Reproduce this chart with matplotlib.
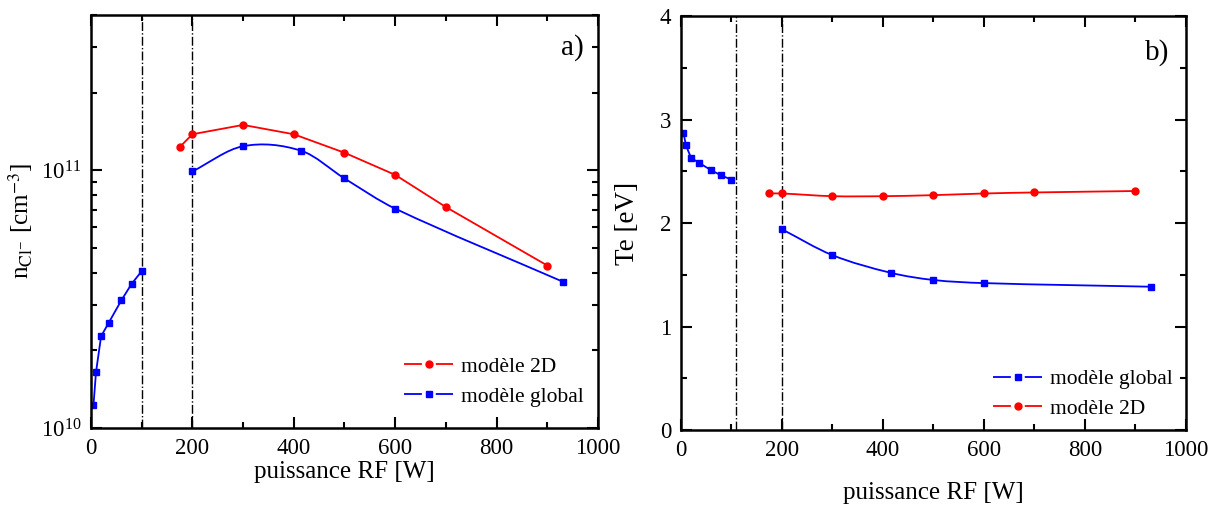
import numpy as np
import matplotlib
matplotlib.use("Agg")
import matplotlib.pyplot as plt
from matplotlib.path import Path
from matplotlib.patches import PathPatch
from matplotlib.lines import Line2D
from matplotlib.ticker import MultipleLocator, LogLocator, NullFormatter

plt.rcParams['font.family'] = ['Liberation Serif', 'DejaVu Serif']
plt.rcParams['mathtext.fontset'] = 'stix'

# --- données ---
# modèle global, basse puissance (mode E)
p_bas = [5, 10, 20, 35, 60, 80, 100]
n_bas = [1.23e10, 1.65e10, 2.27e10, 2.56e10, 3.13e10, 3.62e10, 4.06e10]
te_bas = [2.87, 2.75, 2.63, 2.585, 2.51, 2.46, 2.42]

# modèle global, haute puissance (mode H)
p_haut = [200, 300, 415, 500, 600, 930]
n_haut = [9.9e10, 1.24e11, 1.19e11, 9.3e10, 7.1e10, 3.7e10]
te_haut = [1.94, 1.69, 1.52, 1.45, 1.42, 1.385]

# modèle 2D
p_2d = [175, 200, 300, 400, 500, 600, 700, 900]
n_2d = [1.23e11, 1.38e11, 1.50e11, 1.38e11, 1.17e11, 9.6e10, 7.2e10, 4.27e10]
te_2d = [2.286, 2.286, 2.26, 2.26, 2.27, 2.286, 2.296, 2.31]

bleu = '#0000ff'
rouge = '#ff0000'


def courbe_lisse(ax, x, y, logy=False, **kw):
    # courbe de Hermite (Bezier cubique) passant par les points
    x = np.asarray(x, float)
    y = np.asarray(y, float)
    v = np.log10(y) if logy else y
    n = len(x)
    m = np.empty(n)
    m[0] = (v[1] - v[0]) / (x[1] - x[0])
    m[-1] = (v[-1] - v[-2]) / (x[-1] - x[-2])
    m[1:-1] = (v[2:] - v[:-2]) / (x[2:] - x[:-2])
    verts = [(x[0], v[0])]
    codes = [Path.MOVETO]
    for i in range(n - 1):
        h = (x[i + 1] - x[i]) / 3
        verts += [(x[i] + h, v[i] + m[i] * h),
                  (x[i + 1] - h, v[i + 1] - m[i + 1] * h),
                  (x[i + 1], v[i + 1])]
        codes += [Path.CURVE4] * 3
    verts = np.array(verts)
    if logy:
        verts[:, 1] = 10 ** verts[:, 1]
    ax.add_patch(PathPatch(Path(verts, codes), fill=False, **kw))


def style_axes(ax):
    for s in ax.spines.values():
        s.set_linewidth(1.8)
    ax.tick_params(which='both', direction='in', top=True, right=True,
                   labelsize=16.5, width=1.5)
    ax.tick_params(which='major', length=8, pad=7)
    ax.tick_params(which='minor', length=4)
    ax.xaxis.set_major_locator(MultipleLocator(200))
    ax.xaxis.set_minor_locator(MultipleLocator(100))


fig = plt.figure(figsize=(12.16, 5.05), dpi=100)
ax1 = fig.add_axes([0.0748, 0.1525, 0.417, 0.8175])
ax2 = fig.add_axes([0.560, 0.1485, 0.4153, 0.8195])

# poignées de légende : trait interrompu autour du marqueur
tirets = (0, (9.9, 7.7))
h_2d = Line2D([], [], color=rouge, lw=1.3, ls=tirets, marker='o', ms=5)
h_gl = Line2D([], [], color=bleu, lw=1.3, ls=tirets, marker='s', ms=4.5)
opts_leg = dict(loc='lower right', frameon=False, fontsize=15.5,
                handlelength=2.3, handletextpad=0.35, labelspacing=0.45)

# ---------- a) densité d'ions négatifs ----------
ax1.set_yscale('log')
ax1.set_xlim(0, 1000)
ax1.set_ylim(1e10, 4e11)
ax1.axvline(100, color='black', lw=1.0, ls='-.')
ax1.axvline(200, color='black', lw=1.0, ls='-.')
ax1.plot(p_2d, n_2d, color=rouge, lw=1.3, marker='o', ms=5)
ax1.plot(p_bas, n_bas, color=bleu, lw=1.3, marker='s', ms=4.5)
courbe_lisse(ax1, p_haut, n_haut, logy=True, color=bleu, lw=1.3)
ax1.plot(p_haut, n_haut, ls='none', color=bleu, marker='s', ms=4.5)
style_axes(ax1)
ax1.yaxis.set_major_locator(LogLocator(base=10))
ax1.yaxis.set_minor_locator(LogLocator(base=10, subs=np.arange(2, 10)))
ax1.yaxis.set_minor_formatter(NullFormatter())
ax1.set_xlabel('puissance RF [W]', fontsize=18, labelpad=2)
ax1.set_ylabel(r'n$_{\mathrm{Cl}^{\mathrm{-}}}$ [cm$^{\mathrm{-3}}$]', fontsize=18, labelpad=4)
ax1.text(0.972, 0.905, 'a)', transform=ax1.transAxes, fontsize=21, ha='right')
ax1.legend([h_2d, h_gl], ['modèle 2D', 'modèle global'],
           bbox_to_anchor=(1.01, 0.005), **opts_leg)

# ---------- b) température électronique ----------
ax2.set_xlim(0, 1000)
ax2.set_ylim(0, 4)
ax2.axvline(108, color='black', lw=1.0, ls='-.')
ax2.axvline(200, color='black', lw=1.0, ls='-.')
ax2.plot(p_bas, te_bas, color=bleu, lw=1.3, marker='s', ms=4.5)
courbe_lisse(ax2, p_haut, te_haut, color=bleu, lw=1.3)
ax2.plot(p_haut, te_haut, ls='none', color=bleu, marker='s', ms=4.5)
courbe_lisse(ax2, p_2d, te_2d, color=rouge, lw=1.3)
ax2.plot(p_2d, te_2d, ls='none', color=rouge, marker='o', ms=5)
style_axes(ax2)
ax2.yaxis.set_major_locator(MultipleLocator(1))
ax2.yaxis.set_minor_locator(MultipleLocator(0.5))
ax2.set_xlabel('puissance RF [W]', fontsize=18, labelpad=15)
ax2.set_ylabel('Te [eV]', fontsize=19.5, labelpad=14)
ax2.text(0.968, 0.895, 'b)', transform=ax2.transAxes, fontsize=21, ha='right')
ax2.legend([h_gl, h_2d], ['modèle global', 'modèle 2D'],
           bbox_to_anchor=(1.012, -0.02), **opts_leg)

fig.savefig('out.png', dpi=100)
